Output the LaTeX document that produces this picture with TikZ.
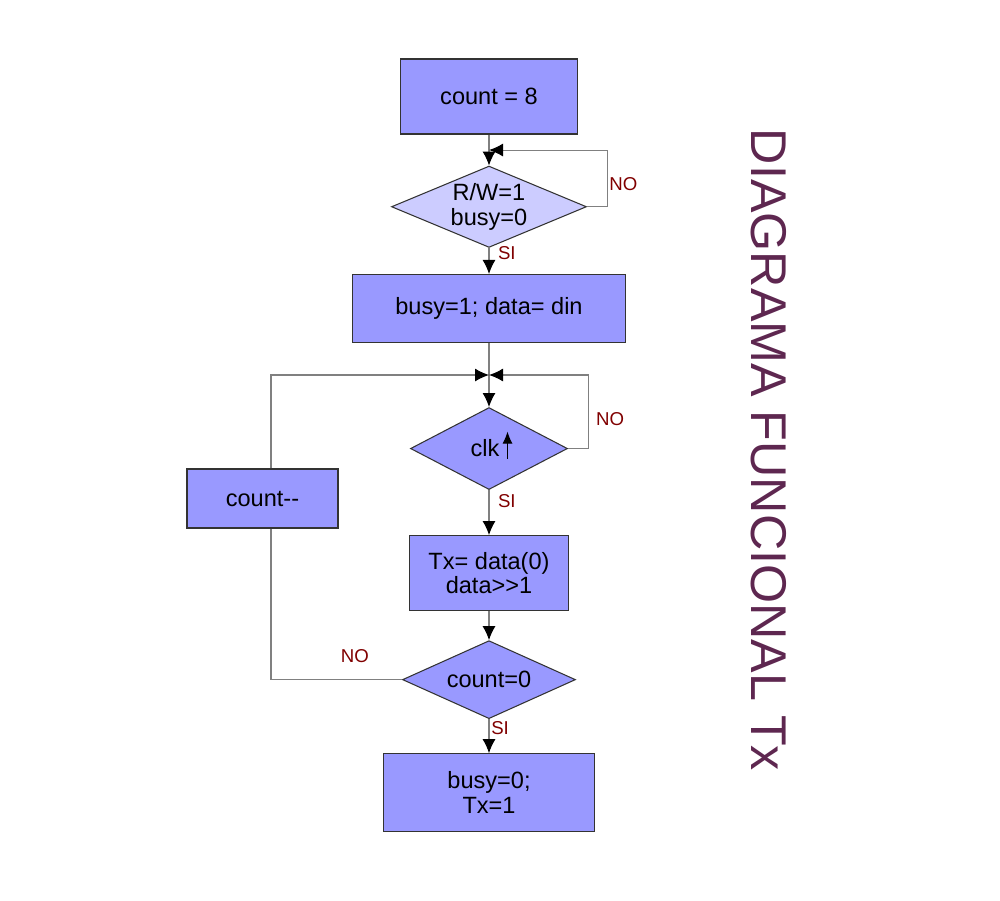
\documentclass[tikz,border=0pt]{standalone}
\usepackage{fontspec}
\setmainfont{Liberation Sans}
\usepackage{tikz}
\usetikzlibrary{shapes.geometric, arrows.meta, positioning, calc}

\definecolor{boxblue}{HTML}{9999FF}
\definecolor{palblue}{HTML}{CCCCFF}
\definecolor{linegray}{HTML}{808080}
\definecolor{edgegray}{HTML}{333333}
\definecolor{lblred}{HTML}{800000}
\definecolor{titlepurple}{HTML}{5E2750}

\begin{document}
\begin{tikzpicture}[
    node distance=0.6cm,
    every node/.style={font=\fontsize{13.4}{14}\selectfont},
    proc/.style={rectangle, draw=edgegray, line width=0.6pt, fill=boxblue, align=center, inner sep=0pt},
    decision/.style={diamond, draw=edgegray, line width=0.6pt, fill=boxblue, align=center, inner sep=0pt, aspect=2.2},
    arrow/.style={draw=linegray, line width=0.6pt, -{Latex[length=0.28cm, width=0.26cm, color=black]}},
    link/.style={draw=linegray, line width=0.6pt},
    lbl/.style={font=\fontsize{10.6}{12}\selectfont, text=lblred, inner sep=2pt},
    title/.style={font=\fontsize{28.6}{30}\selectfont, text=titlepurple, inner sep=0pt}
]
\useasboundingbox (0,0) rectangle (20,-18);

% Main column
\node[proc, minimum width=3.54cm, minimum height=1.5cm] (init) at (9.78,-1.93) {count = 8};
\node[decision, fill=palblue, minimum width=3.9cm, minimum height=1.58cm, below=0.62cm of init] (rw) {R/W=1\\busy=0};
\node[proc, minimum width=5.46cm, minimum height=1.36cm, below=0.52cm of rw] (load) {busy=1; data= din};
\node[decision, minimum width=3.14cm, minimum height=1.64cm, below=1.28cm of load] (clk) {clk\hspace{0.16cm}};
\node[proc, minimum width=3.18cm, minimum height=1.5cm, below=0.9cm of clk] (shift) {Tx= data(0)\\data>\kern0pt>1};
\node[decision, minimum width=3.46cm, minimum height=1.56cm, below=0.58cm of shift] (zero) {count=0};
\node[proc, minimum width=4.22cm, minimum height=1.56cm, below=0.68cm of zero] (done) {busy=0;\\ Tx=1};

% Side box
\node[proc, minimum width=3.02cm, minimum height=1.18cm] (dec) at (5.25,-9.97) {count-\kern0pt-};

% Title
\node[title, rotate=-90] (ttl) at (15.37,-9.0) {DIAGRAMA FUNCIONAL Tx};

% Merge points
\coordinate (m1) at ($(init.south)!0.5!(rw.north)$);
\coordinate (m2) at ($(load.south)!0.5!(clk.north)$);

% Rising edge mark
\draw[line width=0.6pt, -{Latex[length=0.24cm, width=0.2cm]}] ([shift={(0.37,-0.2)}]clk.center) -- ([shift={(0.37,0.34)}]clk.center);

% Connectors
\draw[arrow] (init) -- (rw);
\draw[arrow] (rw.east) -- ++(0.4,0) |- node[lbl, pos=0.2, right, inner sep=1pt] {NO} (m1);
\draw[arrow] (rw) -- node[lbl, pos=0.2, right, xshift=0.1cm] {SI} (load);

\draw[arrow] (load) -- (clk);
\draw[arrow] (clk.east) -- ++(0.4,0) |- node[lbl, pos=0.2, right, xshift=0.08cm] {NO} (m2);
\draw[arrow] (clk) -- node[lbl, pos=0.24, right, xshift=0.1cm] {SI} (shift);

\draw[arrow] (shift) -- (zero);
\draw[link] (zero.west) -| node[lbl, pos=0.18, above=0.25cm] {NO} ([xshift=0.17cm]dec.south);
\draw[arrow] ([xshift=0.17cm]dec.north) |- (m2);
\draw[arrow] (zero) -- node[lbl, pos=0.26, right, inner sep=1pt] {SI} (done);

\end{tikzpicture}
\end{document}
